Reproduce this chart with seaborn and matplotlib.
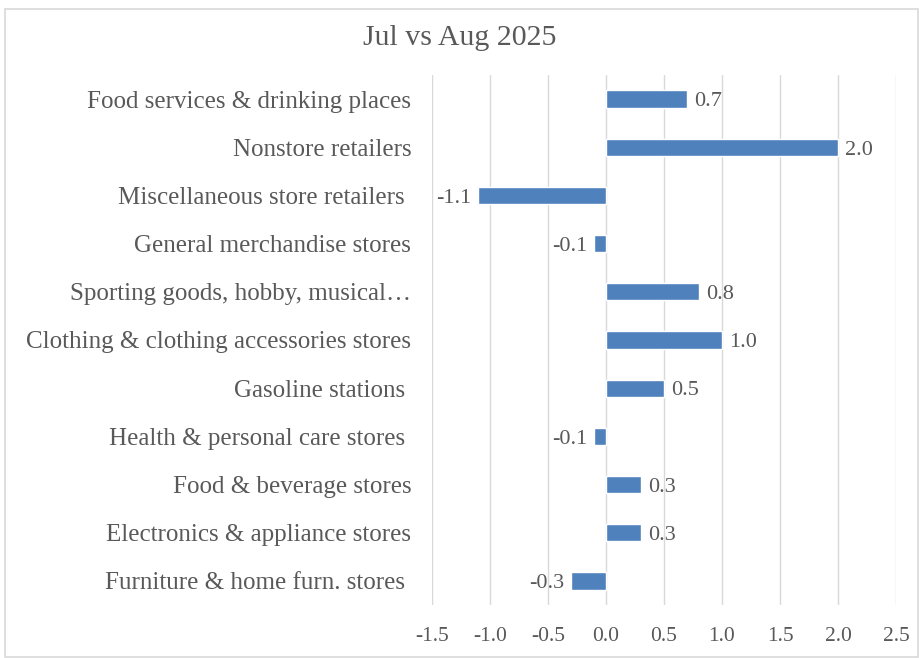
import matplotlib
matplotlib.use("Agg")
import matplotlib.pyplot as plt
import seaborn as sns
import pandas as pd
from matplotlib.patches import Rectangle

categories = [
    "Food services & drinking places",
    "Nonstore retailers",
    "Miscellaneous store retailers ",
    "General merchandise stores",
    "Sporting goods, hobby, musical\u2026",
    "Clothing & clothing accessories stores",
    "Gasoline stations ",
    "Health & personal care stores ",
    "Food & beverage stores",
    "Electronics & appliance stores",
    "Furniture & home furn. stores ",
]
values = [0.7, 2.0, -1.1, -0.1, 0.8, 1.0, 0.5, -0.1, 0.3, 0.3, -0.3]
xticks = [-1.5, -1.0, -0.5, 0.0, 0.5, 1.0, 1.5, 2.0, 2.5]

df = pd.DataFrame({"category": categories, "value": values})

sns.set_theme(style="white")
plt.rcParams["font.family"] = ["Liberation Serif", "DejaVu Serif"]
text_color = "#595959"

fig = plt.figure(figsize=(9.19, 6.58), dpi=100)
ax = fig.add_axes([432 / 919, 1 - 605 / 658, (896 - 432) / 919, (605 - 75) / 658])

sns.barplot(data=df, x="value", y="category", orient="h", color="#4F81BD",
            saturation=1, width=0.36, ax=ax)

ax.set_xlim(-1.5, 2.5)
ax.set_xticks(xticks)
ax.set_xticklabels([f"{t:.1f}" for t in xticks], fontsize=15.5, color=text_color)
ax.tick_params(axis="x", length=0, pad=16)
ax.tick_params(axis="y", length=0, pad=15, labelsize=18, labelcolor=text_color)
ax.set_xlabel("")
ax.set_ylabel("")
ax.grid(axis="x", color="#D9D9D9", linewidth=1)
ax.set_axisbelow(True)
for s in ax.spines.values():
    s.set_visible(False)

texts = ax.bar_label(ax.containers[0], labels=[f"{v:.1f}" for v in values],
                     padding=5, fontsize=16, color=text_color)
# nudge the value labels down a touch so they sit level with the bars
for t in texts:
    t.xyann = (t.xyann[0], -2)

fig.text(0.5, 1 - 38 / 658, "Jul vs Aug 2025", ha="center", va="center",
         fontsize=21.5, color=text_color)

fig.patches.append(Rectangle((5 / 919, 0.002), 1 - 6 / 919, 1 - 10 / 658,
                             transform=fig.transFigure, fill=False,
                             edgecolor="#D9D9D9", linewidth=1.2))

fig.savefig("out.png", dpi=100)
